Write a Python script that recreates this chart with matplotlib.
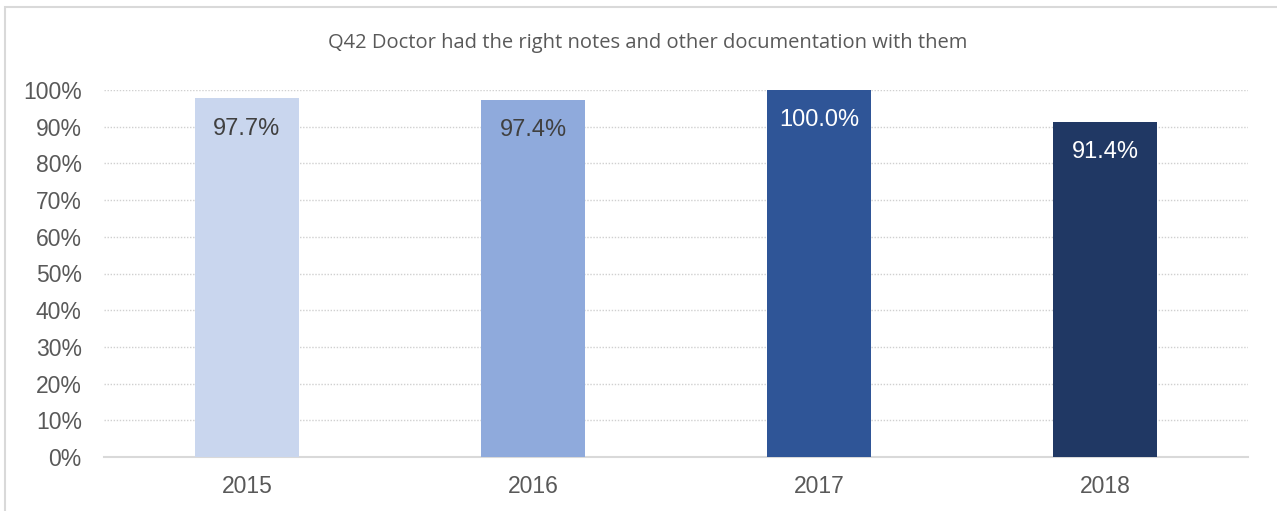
import matplotlib.pyplot as plt
from matplotlib.patches import Rectangle
from matplotlib.ticker import FuncFormatter

years = ["2015", "2016", "2017", "2018"]
values = [97.7, 97.4, 100.0, 91.4]
bar_colors = ["#C9D6EE", "#8FAADC", "#2F5597", "#203864"]
label_colors = ["#404040", "#404040", "#FFFFFF", "#FFFFFF"]
title = "Q42 Doctor had the right notes and other documentation with them"

W, H = 1277, 511
fig = plt.figure(figsize=(W / 100, H / 100), dpi=100)
ax = fig.add_axes([104 / W, 1 - 457 / H, (1248 - 104) / W, (457 - 90) / H])

# chart border
fig.patches.append(Rectangle((5 / W, -0.1), 1.5, 1 - 7 / H + 0.1, transform=fig.transFigure,
                             fill=False, edgecolor="#D9D9D9", linewidth=1.5))

x = range(len(years))
bars = ax.bar(x, values, width=0.367, color=bar_colors, zorder=3)
for b, v, c in zip(bars, values, label_colors):
    ax.text(b.get_x() + b.get_width() / 2, v - 8.2, f"{v:.1f}%", ha="center", va="center",
            fontsize=17, color=c, family="Liberation Sans", zorder=4)

ax.set_xlim(-0.5, len(years) - 0.5)
ax.set_ylim(0, 100)
ax.set_yticks(range(0, 101, 10))
ax.yaxis.set_major_formatter(FuncFormatter(lambda v, p: f"{v:.0f}%"))
ax.set_xticks(list(x))
ax.set_xticklabels(years)
for lab in ax.get_xticklabels() + ax.get_yticklabels():
    lab.set_family("Liberation Sans")
    lab.set_fontsize(16.5)
    lab.set_color("#595959")
ax.tick_params(length=0)
ax.tick_params(axis="y", pad=16)
ax.tick_params(axis="x", pad=13)

ax.grid(axis="y", color="#D0D0D0", linestyle=(0, (1, 1.2)), linewidth=1, zorder=0)
ax.set_axisbelow(True)
for s in ["top", "right", "left"]:
    ax.spines[s].set_visible(False)
ax.spines["bottom"].set_color("#D9D9D9")
ax.spines["bottom"].set_linewidth(1.5)

fig.text(648 / W, 1 - 43 / H, title, ha="center", va="center", fontsize=14.5,
         family="Open Sans", color="#595959")

fig.savefig("out.png", dpi=100)
